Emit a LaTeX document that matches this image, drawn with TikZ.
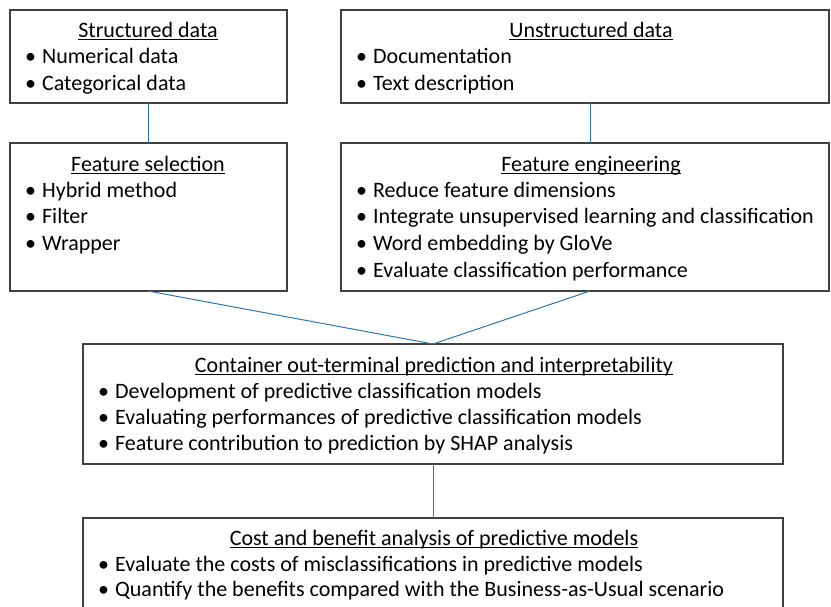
\documentclass[tikz,border=0pt]{standalone}
\usepackage{fontspec}
\setmainfont{Carlito}
\newcommand\myul[1]{\setbox0\hbox{#1}\rlap{\rule[-2.8pt]{\wd0}{0.9pt}}\box0}
\definecolor{linkblue}{RGB}{46,117,182}
\definecolor{boxgray}{RGB}{64,64,64}
\tikzset{
  box/.style={draw=boxgray,line width=1.3pt},
  txt/.style={anchor=base west,inner sep=0pt,font=\fontsize{22}{26}\selectfont},
  ttl/.style={anchor=base,inner sep=0pt,font=\fontsize{22}{26}\selectfont},
  link/.style={draw=linkblue,line width=1pt}
}
\newcommand\bul{•\hspace{6pt}}
\begin{document}
\begin{tikzpicture}[x=1pt,y=-1pt]
\useasboundingbox (0,0) rectangle (831,606);
\clip (0,0) rectangle (831,606);
\fill[white] (0,0) rectangle (831,606);
% boxes
\draw[box] (10,10) rectangle (287,103);
\draw[box] (341,10) rectangle (829,103);
\draw[box] (10,143) rectangle (287,291);
\draw[box] (341,143) rectangle (829,291);
\draw[box] (83,344) rectangle (783,464);
\draw[box] (83,518) rectangle (783,620);
% anchors for connectors
\coordinate (sdB) at (148,103);
\coordinate (fsT) at (148,143);
\coordinate (udB) at (590,103);
\coordinate (feT) at (590,143);
\coordinate (fsB) at (148,291);
\coordinate (feB) at (590,291);
\coordinate (ctT) at (433,344);
\coordinate (ctB) at (433,464);
\coordinate (cbT) at (433,518);
\draw[link] (sdB) -- (fsT);
\draw[link] (udB) -- (feT);
\draw[link] (fsB) -- (ctT);
\draw[link] (feB) -- (ctT);
\draw[link] (ctB) -- (cbT);
% Structured data
\node[ttl] (t1) at (148,37) {\myul{Structured data}};
\node[txt] (a1) at (25,63) {\bul Numerical data};
\node[txt] (a2) at (25,90) {\bul Categorical data};
% Unstructured
\node[ttl] (t2) at (591,37) {\myul{Unstructured data}};
\node[txt] (b1) at (356,63) {\bul Documentation};
\node[txt] (b2) at (356,90) {\bul Text description};
% Feature selection
\node[ttl] (t3) at (148,171) {\myul{Feature selection}};
\node[txt] (c1) at (25,197) {\bul Hybrid method};
\node[txt] (c2) at (25,223) {\bul Filter};
\node[txt] (c3) at (25,250) {\bul Wrapper};
% Feature engineering
\node[ttl] (t4) at (591,171) {\myul{Feature engineering}};
\node[txt] (d1) at (356,197) {\bul Reduce feature dimensions};
\node[txt] (d2) at (356,223) {\bul Integrate unsupervised learning and classification};
\node[txt] (d3) at (356,250) {\bul Word embedding by GloVe};
\node[txt] (d4) at (356,277) {\bul Evaluate classification performance};
% Container
\node[ttl] (t5) at (434,372) {\myul{Container out-terminal prediction and interpretability}};
\node[txt] (e1) at (98,398) {\bul Development of predictive classification models};
\node[txt] (e2) at (98,424) {\bul Evaluating performances of predictive classification models};
\node[txt] (e3) at (98,450) {\bul Feature contribution to prediction by SHAP analysis};
% Cost
\node[ttl] (t6) at (434,545) {\myul{Cost and benefit analysis of predictive models}};
\node[txt] (f1) at (98,571) {\bul Evaluate the costs of misclassifications in predictive models};
\node[txt] (f2) at (98,596) {\bul Quantify the benefits compared with the Business-as-Usual scenario};
\end{tikzpicture}
\end{document}
